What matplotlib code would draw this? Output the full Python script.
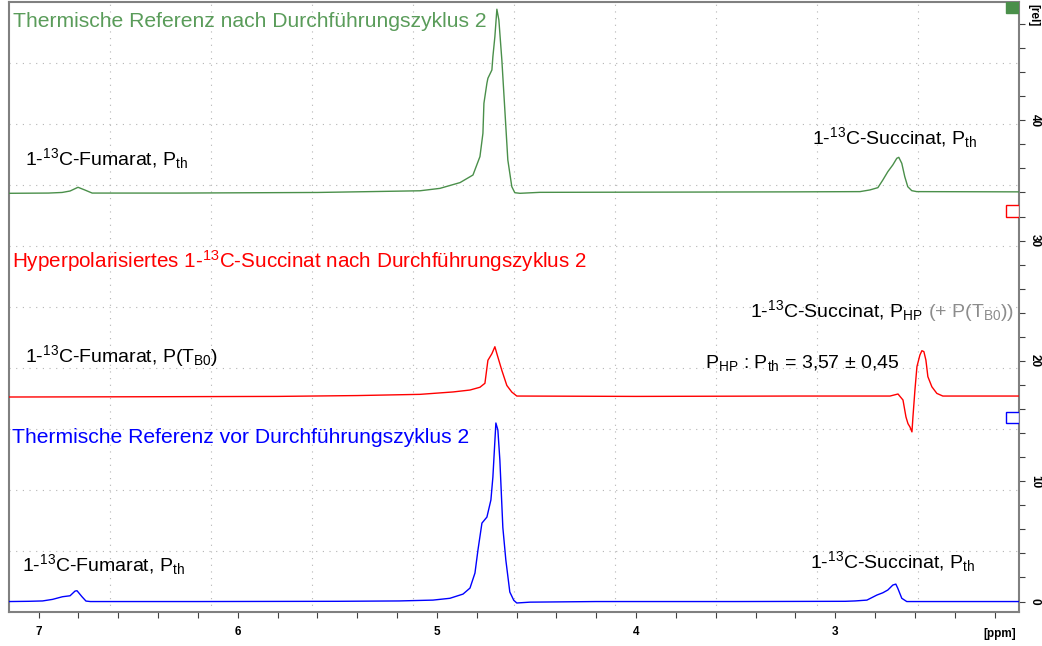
import matplotlib
matplotlib.use('Agg')
import matplotlib.pyplot as plt
from matplotlib.patches import Rectangle
from matplotlib.ticker import MultipleLocator

plt.rcParams['font.family'] = ['Liberation Sans', 'DejaVu Sans']
plt.rcParams['mathtext.fontset'] = 'custom'
plt.rcParams['mathtext.rm'] = 'Liberation Sans'
plt.rcParams['mathtext.it'] = 'Liberation Sans:italic'
plt.rcParams['mathtext.bf'] = 'Liberation Sans:bold'

# 13C spectra, points along each trace (chemical shift in ppm, intensity in rel. units)
blue_ppm = [7.15, 7.05, 6.98, 6.93, 6.88, 6.842, 6.817, 6.807, 6.782, 6.762, 6.74,
            6.2, 5.5, 5.19, 5.02, 4.935, 4.869, 4.834, 4.809, 4.794, 4.774, 4.749,
            4.729, 4.719, 4.704, 4.694, 4.684, 4.669, 4.654, 4.634, 4.614, 4.599,
            4.533, 4.2, 3.5, 2.95, 2.901, 2.841, 2.791, 2.761, 2.736, 2.711, 2.696,
            2.686, 2.666, 2.641, 2.3, 2.08]
blue_int = [0.0, 0.02, 0.05, 0.18, 0.40, 0.48, 0.87, 0.90, 0.40, 0.04, 0.0,
            0.0, 0.02, 0.05, 0.12, 0.27, 0.62, 1.12, 2.37, 4.28, 6.52, 7.02,
            8.44, 10.35, 14.84, 14.26, 11.76, 6.15, 3.45, 0.79, 0.10, -0.12,
            -0.05, 0.0, 0.0, 0.02, 0.05, 0.12, 0.54, 0.73, 0.96, 1.37, 1.45,
            1.10, 0.27, 0.0, 0.0, 0.0]

red_ppm = [7.15, 6.5, 5.8, 5.4, 5.085, 4.919, 4.834, 4.784, 4.759, 4.744, 4.724,
           4.709, 4.699, 4.674, 4.649, 4.624, 4.599, 4.0, 3.2, 2.725, 2.685, 2.660,
           2.645, 2.635, 2.625, 2.615, 2.610, 2.600, 2.590, 2.575, 2.565, 2.555,
           2.545, 2.535, 2.515, 2.490, 2.460, 2.08]
red_int = [17.0, 17.02, 17.05, 17.12, 17.22, 17.42, 17.58, 17.81, 18.14, 20.05, 20.60,
           21.18, 20.60, 19.21, 17.96, 17.41, 17.08, 17.05, 17.08, 17.08, 17.25, 16.75,
           15.34, 14.79, 14.51, 14.10, 15.34, 17.58, 19.52, 20.49, 20.85, 20.77,
           20.07, 18.69, 17.85, 17.30, 17.08, 17.08]

green_ppm = [7.15, 6.95, 6.882, 6.842, 6.802, 6.767, 6.731, 6.3, 5.6, 5.3, 5.085,
             4.985, 4.884, 4.819, 4.784, 4.769, 4.764, 4.749, 4.744, 4.724, 4.719,
             4.709, 4.699, 4.689, 4.674, 4.659, 4.644, 4.624, 4.609, 4.583, 4.483,
             3.8, 3.2, 2.876, 2.826, 2.786, 2.761, 2.736, 2.711, 2.691, 2.681, 2.666,
             2.651, 2.636, 2.616, 2.591, 2.08]
green_int = [33.93, 33.95, 34.0, 34.12, 34.43, 34.2, 33.95, 33.95, 34.0, 34.08, 34.14,
             34.34, 34.82, 35.45, 36.98, 38.92, 41.41, 43.08, 43.49, 44.18, 45.29,
             46.95, 49.23, 48.34, 45.01, 40.86, 36.70, 34.48, 33.98, 33.93, 34.01,
             34.03, 34.05, 34.07, 34.21, 34.40, 35.04, 35.73, 36.29, 36.84, 36.92, 36.42,
             35.31, 34.48, 34.15, 34.07, 34.05]

GREEN_LINE = '#4a8f4a'
GREEN_TEXT = '#5a9c5a'
RED = '#ff0000'
BLUE = '#0000ff'
FRAME = '#808080'

fig = plt.figure(figsize=(10.42, 6.46), dpi=100)
ax = fig.add_axes([0.00816, 0.05186, 0.96929, 0.94505])

# dotted 10x10 screen grid
for f in [0.1, 0.2, 0.3, 0.4, 0.5, 0.6, 0.7, 0.8, 0.9]:
    ax.plot([f, f], [0, 1], transform=ax.transAxes, color='#b4b4b4',
            lw=0.8, ls=(0, (1, 5)), zorder=1)
    ax.plot([0, 1], [f, f], transform=ax.transAxes, color='#b4b4b4',
            lw=0.8, ls=(0, (1, 5)), zorder=1)

ax.plot(green_ppm, green_int, color=GREEN_LINE, lw=1.0, zorder=3)
ax.plot(red_ppm, red_int, color=RED, lw=1.0, zorder=3)
ax.plot(blue_ppm, blue_int, color=BLUE, lw=1.0, zorder=3)

ax.set_xlim(7.151, 2.080)
ax.set_ylim(-0.91, 49.83)

# axes styling
for side in ['left', 'right', 'top', 'bottom']:
    ax.spines[side].set_color(FRAME)
    ax.spines[side].set_linewidth(1.5)

ax.xaxis.set_major_locator(MultipleLocator(1))
ax.xaxis.set_minor_locator(MultipleLocator(0.2))
ax.yaxis.set_major_locator(MultipleLocator(10))
ax.yaxis.set_minor_locator(MultipleLocator(2))
ax.yaxis.tick_right()
ax.tick_params(axis='both', which='both', direction='out', length=4.5,
               width=0.8, color='#404040')
ax.tick_params(axis='x', labelsize=8.5, pad=5)
ax.tick_params(axis='y', labelsize=8.5, pad=3, labelrotation=-90)
for lab in ax.get_xticklabels() + ax.get_yticklabels():
    lab.set_fontweight('bold')
for lab in ax.get_yticklabels():
    lab.set_va('center')

ax.text(0.9817, -0.035, '[ppm]', transform=ax.transAxes, fontsize=8.5,
        fontweight='bold', ha='center', va='center')
ax.text(1.0144, 0.979, '[rel]', transform=ax.transAxes, fontsize=8.5,
        fontweight='bold', ha='center', va='center', rotation=-90)

# scaling markers at the right edge
ax.add_patch(Rectangle((0.9875, 0.982), 0.0125, 0.018, transform=ax.transAxes,
                       facecolor=GREEN_LINE, edgecolor=GREEN_LINE, lw=1, zorder=4))
ax.add_patch(Rectangle((0.9875, 0.648), 0.0125, 0.019, transform=ax.transAxes,
                       facecolor='white', edgecolor=RED, lw=1, zorder=4))
ax.add_patch(Rectangle((0.9875, 0.310), 0.0125, 0.019, transform=ax.transAxes,
                       facecolor='white', edgecolor=BLUE, lw=1, zorder=4))

FS = 14
FS_TITLE = 15.2
ax.text(7.128, 47.78, 'Thermische Referenz nach Durchführungszyklus 2',
        color=GREEN_TEXT, fontsize=FS_TITLE, va='baseline')
ax.text(7.068, 36.29, r'1-$^{13}$C-Fumarat, P$_{\mathrm{th}}$', fontsize=FS, va='baseline')
ax.text(3.117, 38.03, r'1-$^{13}$C-Succinat, P$_{\mathrm{th}}$', fontsize=FS, va='baseline')

ax.text(7.133, 27.72, r'Hyperpolarisiertes 1-$^{13}$C-Succinat nach Durchführungszyklus 2',
        color=RED, fontsize=14.85, va='baseline')
t_hp = ax.text(3.428, 23.65, r'1-$^{13}$C-Succinat, P$_{\mathrm{HP}}$',
               fontsize=FS, va='baseline')
ax.annotate(r' (+ P(T$_{\mathrm{B0}}$))', xy=(1, 0), xycoords=t_hp,
            ha='left', va='bottom', color='#8c8c8c', fontsize=FS)
ax.text(7.068, 19.91, r'1-$^{13}$C-Fumarat, P(T$_{\mathrm{B0}}$)', fontsize=FS, va='baseline')
ax.text(3.655, 19.41, r'P$_{\mathrm{HP}}$ : P$_{\mathrm{th}}$ = 3,57 ± 0,45',
        fontsize=FS, va='baseline')

ax.text(7.133, 13.18, 'Thermische Referenz vor Durchführungszyklus 2',
        color=BLUE, fontsize=FS_TITLE, va='baseline')
ax.text(7.083, 2.54, r'1-$^{13}$C-Fumarat, P$_{\mathrm{th}}$', fontsize=FS, va='baseline')
ax.text(3.127, 2.78, r'1-$^{13}$C-Succinat, P$_{\mathrm{th}}$', fontsize=FS, va='baseline')

fig.savefig('out.png', dpi=100)
